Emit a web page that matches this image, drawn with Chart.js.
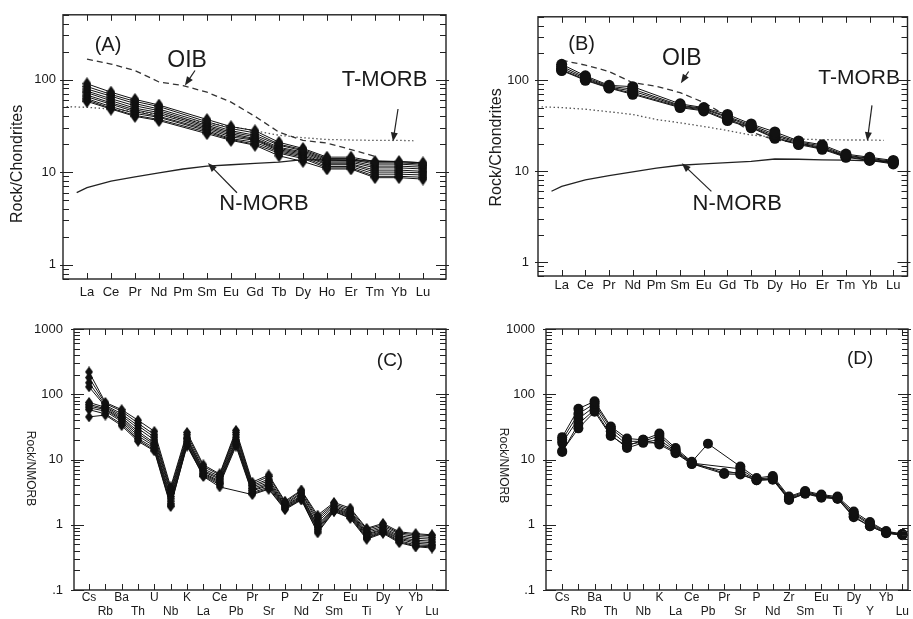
<!DOCTYPE html>
<html>
<head>
<meta charset="utf-8">
<script src="https://cdn.jsdelivr.net/npm/chart.js@4.4.0/dist/chart.umd.min.js"></script>
<style>
  body { margin: 0; background: #fff; }
  #page { position: relative; width: 913px; height: 619px; overflow: hidden; }
  canvas { position: absolute; }
</style>
</head>
<body>
<div id="page">
  <canvas id="chartA" width="460" height="310" style="left:0;top:0"></canvas>
  <canvas id="chartB" width="453" height="310" style="left:460px;top:0"></canvas>
  <canvas id="chartC" width="460" height="309" style="left:0;top:310px"></canvas>
  <canvas id="chartD" width="453" height="309" style="left:460px;top:310px"></canvas>
</div>
<script>
// element order on the x axis
const reeLabels = ['La','Ce','Pr','Nd','Pm','Sm','Eu','Gd','Tb','Dy','Ho','Er','Tm','Yb','Lu'];
const spiderLabels = ['Cs','Rb','Ba','Th','U','Nb','K','La','Ce','Pb','Pr','Sr','P','Nd','Zr','Sm','Eu','Ti','Dy','Y','Yb','Lu'];

// y tick values
const reeTicks = [1, 10, 100];
const spiderTicks = [0.1, 1, 10, 100, 1000];

// reference curves (chondrite normalised), x = element index
const oibX = [0,1,2,3,4,5,6,7,8,9,10,11,12];
const oibVals = [166,147,125,94,86,73,57,40,27,22,20.6,17.5,14.8];
const tmorbX = [-0.85,0,1,2,3,4,5,6,7,8,9,10,11,12,13,13.6];
const tmorbVals = [51,50,48,45,42,37,34,31,28,25,23.5,22.5,22.2,22,22,21.8];
const nmorbX = [-0.43,0,1,2,3,4,5,6,7,8,9,10,11,12,13,14];
const nmorbVals = [6.0,6.8,8.0,8.9,9.8,10.8,11.6,12.0,12.4,12.8,13.6,13.5,13.3,13.2,13.0,12.6];

// (A) samples, REE, no Pm
const samplesA = [
  [90,73,61,53,null,37,31,28,21,18,14.5,14.5,13,13,12.6],
  [84,69,58,51,null,35,29.5,26.5,20,17.5,14,14,12.6,12.6,12.2],
  [79,66,55,48,null,33.5,28,25,19.5,17,13.6,13.6,12.2,12.2,11.8],
  [75,62,52,46,null,32,27,24,18.5,16.5,13.2,13.2,11.6,11.6,11.3],
  [72,59,49,44,null,31,26,23,18,16,12.8,12.8,11.1,11.1,10.8],
  [68,56,47,42,null,30,25,22.5,17.5,15.5,12.3,12.3,10.5,10.5,10.2],
  [65,54,45,40,null,29,24,22,17,15,12,12,10,10,9.8],
  [62,51,43,39,null,28,23,21,16.5,14.5,11.5,11.5,9.5,9.5,9.3],
  [60,49,41,37,null,27,22.5,20,16,14,11.1,11.1,9,9,8.8],
  [58,48,40,36,null,26,22,19.5,15,13,10.8,10.8,8.7,8.7,8.4]
];

// (B) samples, REE, no Pm
const samplesB = [
  [150,112,88,85,null,55,50,42,33,27,21.5,19.5,15.4,14.2,13.1],
  [142,108,86,80,null,53,49,40,32,25.5,21,18.8,15,13.8,12.8],
  [135,105,84,76,null,52,48,39,31,24.5,20.5,18.2,14.7,13.6,12.5],
  [130,102,83,72,null,51,47,37,30.5,23.5,20,17.8,14.4,13.3,12.2],
  [128,100,82,70,null,50,46,36,30,23,19.6,17.4,14.2,13.1,12.0]
];

// (C) samples, N-MORB normalised
const samplesC = [
  [220,75,58,40,27,3.8,26,8.3,6.0,28,4.5,5.8,2.3,3.4,1.4,2.2,1.8,0.88,1.05,0.78,0.73,0.70],
  [180,72,55,36,24,3.5,24,7.8,5.8,26,4.2,5.5,2.2,3.3,1.3,2.1,1.7,0.85,1.0,0.75,0.70,0.68],
  [150,68,50,33,22,3.2,22,7.2,5.5,24,4.0,5.0,2.1,3.1,1.2,2.0,1.6,0.80,0.95,0.72,0.66,0.64],
  [130,65,47,30,20,3.0,21,6.8,5.2,22,3.8,4.7,2.0,3.0,1.1,1.9,1.55,0.76,0.90,0.68,0.62,0.60],
  [75,63,44,27,18,2.7,20,6.5,5.0,20,3.6,4.4,1.95,2.8,1.0,1.8,1.5,0.72,0.86,0.65,0.58,0.56],
  [70,60,42,25,17,2.5,19,6.2,4.7,19,3.4,4.2,1.9,2.7,0.95,1.75,1.45,0.70,0.83,0.62,0.55,0.53],
  [66,58,40,23,16,2.3,18,6.0,4.5,18,3.3,4.0,1.85,2.6,0.9,1.7,1.4,0.67,0.80,0.60,0.52,0.50],
  [62,55,38,21,15,2.1,17,5.8,4.3,17,3.1,3.8,1.8,2.5,0.85,1.65,1.35,0.64,0.78,0.57,0.49,0.48],
  [58,50,35,20,14,2.0,16,5.6,4.1,16,3.0,3.6,1.75,2.45,0.8,1.6,1.3,0.62,0.76,0.55,0.47,0.46],
  [45,48,33,19,13.5,1.9,17,5.5,3.8,null,2.9,3.5,1.7,2.4,0.75,1.6,1.25,0.60,0.74,0.53,0.46,0.44]
];

// (D) samples, N-MORB normalised
const samplesD = [
  [22,60,78,32,21,20,25,15,9.2,17.5,null,7.8,5.2,5.6,2.7,3.3,2.9,2.7,1.6,1.1,0.8,0.72],
  [20,50,72,30,19,19,23,14,9.0,null,6.2,6.3,5.0,5.3,2.6,3.2,2.8,2.6,1.5,1.05,0.78,0.72],
  [18,42,65,27,17,18.5,20,13.5,8.8,null,null,7.2,4.9,5.1,2.5,3.1,2.75,2.55,1.45,1.0,0.76,0.70],
  [13,35,58,24,15,18,18,13,8.6,null,6.0,5.9,4.8,5.0,2.45,3.0,2.7,2.5,1.35,0.95,0.75,0.70],
  [13.5,30,54,23,16,20,17,12.5,8.5,null,null,6.0,4.8,4.9,2.4,3.0,2.6,2.5,1.3,0.95,0.74,0.69]
];

Chart.defaults.font.family = '"Liberation Sans", Arial, sans-serif';
Chart.defaults.color = '#1a1a1a';

const ink = '#111';

function diamond(w, h) {
  const c = document.createElement('canvas');
  c.width = w; c.height = h;
  const g = c.getContext('2d');
  g.fillStyle = ink;
  g.beginPath();
  g.moveTo(w / 2, 0); g.lineTo(w, h / 2); g.lineTo(w / 2, h); g.lineTo(0, h / 2);
  g.closePath(); g.fill();
  return c;
}

function sampleSets(rows, style, radius) {
  return rows.map(r => ({
    data: r.map((v, i) => ({ x: i, y: v })),
    borderColor: ink, borderWidth: 1,
    pointStyle: style, pointRadius: radius,
    pointBackgroundColor: ink, pointBorderColor: ink, pointBorderWidth: 0,
    spanGaps: true, tension: 0, fill: false
  }));
}

function refSet(xs, vals, dash, color) {
  return {
    data: xs.map((x, i) => ({ x: x, y: vals[i] })),
    borderColor: color, borderWidth: 1.3, borderDash: dash,
    pointRadius: 0, tension: 0, fill: false
  };
}

// frame, inward ticks, axis title and notes
const framePlugin = {
  id: 'frame',
  afterDraw(chart, args, o) {
    const { ctx, chartArea: a } = chart;
    const xs = chart.scales.x, ys = chart.scales.y;
    ctx.save();
    ctx.strokeStyle = '#222';
    ctx.lineWidth = 1.4;
    ctx.strokeRect(a.left, a.top, a.right - a.left, a.bottom - a.top);
    ctx.lineWidth = 1;
    ctx.beginPath();
    for (let i = 0; i < o.count; i++) {
      const px = Math.round(xs.getPixelForValue(i)) + 0.5;
      ctx.moveTo(px, a.bottom); ctx.lineTo(px, a.bottom - 6);
      ctx.moveTo(px, a.top); ctx.lineTo(px, a.top + 6);
    }
    const d0 = Math.floor(Math.log10(ys.min)), d1 = Math.ceil(Math.log10(ys.max));
    for (let d = d0; d <= d1; d++) {
      for (let m = 1; m <= 9; m++) {
        const v = m * Math.pow(10, d);
        if (v < ys.min * 0.999 || v > ys.max * 1.001) continue;
        const py = Math.round(ys.getPixelForValue(v)) + 0.5;
        const len = m === 1 ? 10 : 6;
        ctx.moveTo(a.left - (m === 1 ? 3 : 0), py); ctx.lineTo(a.left + len, py);
        ctx.moveTo(a.right + (m === 1 ? 3 : 0), py); ctx.lineTo(a.right - len, py);
      }
    }
    ctx.stroke();

    // y title
    ctx.fillStyle = '#1a1a1a';
    ctx.textAlign = 'center';
    ctx.textBaseline = 'middle';
    ctx.save();
    ctx.translate(a.left + o.titleDx, (a.top + a.bottom) / 2 + o.titleDy);
    ctx.rotate(o.titleRot);
    ctx.font = o.titleSize + 'px "Liberation Sans", Arial, sans-serif';
    ctx.fillText(o.title, 0, 0);
    ctx.restore();

    // notes
    (o.notes || []).forEach(n => {
      ctx.font = n.s + 'px "Liberation Sans", Arial, sans-serif';
      ctx.fillText(n.t, xs.getPixelForValue(n.x), ys.getPixelForValue(n.y));
    });
    // arrows
    ctx.strokeStyle = '#222';
    ctx.fillStyle = '#222';
    ctx.lineWidth = 1.2;
    (o.arrows || []).forEach(r => {
      const x0 = xs.getPixelForValue(r.x0), y0 = ys.getPixelForValue(r.y0);
      const x1 = xs.getPixelForValue(r.x1), y1 = ys.getPixelForValue(r.y1);
      const ang = Math.atan2(y1 - y0, x1 - x0);
      ctx.beginPath(); ctx.moveTo(x0, y0); ctx.lineTo(x1 - 6 * Math.cos(ang), y1 - 6 * Math.sin(ang)); ctx.stroke();
      ctx.beginPath();
      ctx.moveTo(x1, y1);
      ctx.lineTo(x1 - 9 * Math.cos(ang) + 3.5 * Math.sin(ang), y1 - 9 * Math.sin(ang) - 3.5 * Math.cos(ang));
      ctx.lineTo(x1 - 9 * Math.cos(ang) - 3.5 * Math.sin(ang), y1 - 9 * Math.sin(ang) + 3.5 * Math.cos(ang));
      ctx.closePath(); ctx.fill();
    });
    ctx.restore();
  }
};

function makeChart(id, c) {
  return new Chart(document.getElementById(id), {
    type: 'line',
    data: { datasets: c.datasets },
    plugins: [framePlugin],
    options: {
      responsive: false,
      animation: false,
      events: [],
      layout: { padding: { top: c.top, right: c.right, left: 0, bottom: 0 } },
      plugins: { legend: { display: false }, tooltip: { enabled: false }, frame: c.frame },
      scales: {
        x: {
          type: 'linear', min: c.xMin, max: c.xMax,
          grid: { display: false, drawTicks: false }, border: { display: false },
          afterBuildTicks: s => { s.ticks = c.labels.map((l, i) => ({ value: i })); },
          afterFit: s => { s.height = c.bottom; },
          ticks: {
            autoSkip: false, maxRotation: 0, padding: c.xPad,
            font: { size: c.xFont, lineHeight: c.xLine },
            callback: v => c.twoRows ? (v % 2 === 0 ? [c.labels[v], ''] : ['', c.labels[v]]) : c.labels[v]
          }
        },
        y: {
          type: 'logarithmic', min: c.yMin, max: c.yMax,
          grid: { display: false, drawTicks: false }, border: { display: false },
          afterBuildTicks: s => { s.ticks = c.yTicks.map(v => ({ value: v })); },
          afterFit: s => { s.width = c.left; },
          ticks: {
            padding: c.yPad, font: { size: 13 },
            callback: v => v < 1 ? '.' + String(v).split('.')[1] : String(v)
          }
        }
      }
    }
  });
}

const dA = diamond(9, 13), dC = diamond(8, 11);

makeChart('chartA', {
  labels: reeLabels, xMin: -1, xMax: 14.96, yMin: 0.7, yMax: 500, yTicks: reeTicks,
  left: 63, right: 14, top: 12, bottom: 31, xPad: 6, yPad: 7, xFont: 13, xLine: 1.2,
  datasets: sampleSets(samplesA, dA, 6).concat([
    refSet(oibX, oibVals, [6, 4], '#333'),
    refSet(tmorbX, tmorbVals, [1.5, 2.5], '#555'),
    refSet(nmorbX, nmorbVals, [], '#222')
  ]),
  frame: {
    count: reeLabels.length, title: 'Rock/Chondrites', titleSize: 16, titleDx: -45, titleDy: 17, titleRot: -Math.PI / 2,
    notes: [
      { t: '(A)', x: 0.875, y: 236, s: 20 },
      { t: 'OIB', x: 4.17, y: 159, s: 23 },
      { t: 'T-MORB', x: 12.4, y: 100, s: 22 },
      { t: 'N-MORB', x: 7.375, y: 4.57, s: 22 }
    ],
    arrows: [
      { x0: 4.5, y0: 125, x1: 4.08, y1: 86 },
      { x0: 12.96, y0: 48, x1: 12.75, y1: 21.4 },
      { x0: 6.25, y0: 5.98, x1: 5.04, y1: 12.5 }
    ]
  }
});

makeChart('chartB', {
  labels: reeLabels, xMin: -1, xMax: 14.6, yMin: 0.7, yMax: 500, yTicks: reeTicks,
  left: 78, right: 2, top: 7, bottom: 34, xPad: 2, yPad: 9, xFont: 13, xLine: 1.2,
  datasets: sampleSets(samplesB, 'circle', 5.5).concat([
    refSet(oibX, oibVals, [6, 4], '#333'),
    refSet(tmorbX, tmorbVals, [1.5, 2.5], '#555'),
    refSet(nmorbX, nmorbVals, [], '#222')
  ]),
  frame: {
    count: reeLabels.length, title: 'Rock/Chondrites', titleSize: 16, titleDx: -41, titleDy: 1, titleRot: -Math.PI / 2,
    notes: [
      { t: '(B)', x: 0.84, y: 248, s: 20 },
      { t: 'OIB', x: 5.07, y: 171, s: 23 },
      { t: 'T-MORB', x: 12.56, y: 105, s: 21 },
      { t: 'N-MORB', x: 7.41, y: 4.35, s: 22 }
    ],
    arrows: [
      { x0: 5.36, y0: 125, x1: 5.03, y1: 93 },
      { x0: 13.1, y0: 53, x1: 12.9, y1: 21.4 },
      { x0: 6.32, y0: 5.98, x1: 5.07, y1: 12.2 }
    ]
  }
});

makeChart('chartC', {
  labels: spiderLabels, xMin: -0.92, xMax: 21.86, yMin: 0.1, yMax: 1000, yTicks: spiderTicks,
  left: 74, right: 14, top: 19, bottom: 29, xPad: 1, yPad: 11, xFont: 12, xLine: 1.17, twoRows: true,
  datasets: sampleSets(samplesC, dC, 5.5),
  frame: {
    count: spiderLabels.length, title: 'Rock/NMORB', titleSize: 12, titleDx: -44, titleDy: 9, titleRot: Math.PI / 2,
    notes: [{ t: '(C)', x: 18.43, y: 322, s: 19 }]
  }
});

makeChart('chartD', {
  labels: spiderLabels, xMin: -1, xMax: 21.35, yMin: 0.1, yMax: 1000, yTicks: spiderTicks,
  left: 86, right: 5, top: 19, bottom: 29, xPad: 1, yPad: 11, xFont: 12, xLine: 1.17, twoRows: true,
  datasets: sampleSets(samplesD, 'circle', 5),
  frame: {
    count: spiderLabels.length, title: 'Rock/NMORB', titleSize: 12, titleDx: -43, titleDy: 6, titleRot: Math.PI / 2,
    notes: [{ t: '(D)', x: 18.4, y: 345, s: 19 }]
  }
});
</script>
</body>
</html>
